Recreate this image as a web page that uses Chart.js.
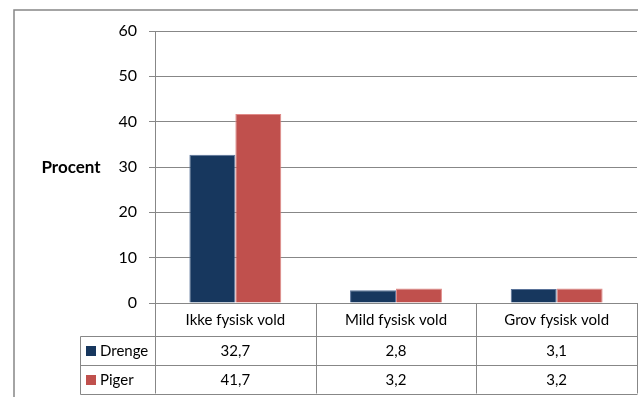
<!DOCTYPE html>
<html>
<head>
<meta charset="utf-8">
<script src="https://cdn.jsdelivr.net/npm/chart.js@4"></script>
<style>
  body { margin: 0; background: #fff; }
</style>
</head>
<body>
<canvas id="chart" width="638" height="397"></canvas>
<script>
// data
const categories = ['Ikke fysisk vold', 'Mild fysisk vold', 'Grov fysisk vold'];
const seriesNames = ['Drenge', 'Piger'];
const drenge = [32.7, 2.8, 3.1];
const piger = [41.7, 3.2, 3.2];
const yMax = 60;
const yStep = 10;
const yTitle = 'Procent';

const navy = '#17375E';
const red = '#C0504D';
const grey = '#878787';
const font = 'Lato, "Open Sans", sans-serif';

function fmt(v) {
  return v.toFixed(1).replace('.', ',');
}

// draws the outer frame, the "Procent" label and the data table under the axis
const tablePlugin = {
  id: 'dataTable',
  beforeDraw(chart) {
    const ctx = chart.ctx;
    ctx.save();
    ctx.strokeStyle = grey;
    ctx.lineWidth = 1.5;
    ctx.beginPath();
    ctx.moveTo(14, chart.height);
    ctx.lineTo(14, 10);
    ctx.lineTo(chart.width, 10);
    ctx.stroke();
    ctx.restore();
  },
  afterDraw(chart) {
    const ctx = chart.ctx;
    const x = chart.scales.x;
    const area = chart.chartArea;
    const n = categories.length;
    const cw = (x.right - x.left) / n;
    const top = area.bottom;
    const rows = [top, top + 32.5, top + 62, top + 90.5];
    const labelLeft = 80.5;

    ctx.save();
    ctx.strokeStyle = grey;
    ctx.lineWidth = 1;
    ctx.beginPath();
    // vertical lines of the category columns
    for (let i = 0; i <= n; i++) {
      const px = Math.round(x.left + i * cw) + 0.5;
      ctx.moveTo(px, rows[0]);
      ctx.lineTo(px, rows[3]);
    }
    // horizontal lines
    for (let r = 1; r < rows.length; r++) {
      ctx.moveTo(labelLeft, Math.round(rows[r]) + 0.5);
      ctx.lineTo(x.right + 0.5, Math.round(rows[r]) + 0.5);
    }
    ctx.moveTo(labelLeft, Math.round(rows[1]) + 0.5);
    ctx.lineTo(labelLeft, Math.round(rows[3]) + 0.5);
    ctx.stroke();

    ctx.fillStyle = '#000';
    ctx.font = '15px ' + font;
    ctx.textAlign = 'center';
    ctx.textBaseline = 'middle';
    categories.forEach((c, i) => {
      const cx = x.getPixelForValue(i);
      ctx.fillText(c, cx, (rows[0] + rows[1]) / 2 + 1);
      ctx.fillText(fmt(drenge[i]), cx, (rows[1] + rows[2]) / 2 + 1);
      ctx.fillText(fmt(piger[i]), cx, (rows[2] + rows[3]) / 2 + 1);
    });

    // row labels with legend keys
    const colors = [navy, red];
    ctx.textAlign = 'left';
    seriesNames.forEach((s, r) => {
      const cy = (rows[r + 1] + rows[r + 2]) / 2;
      ctx.fillStyle = colors[r];
      ctx.fillRect(86, Math.round(cy - 4), 10, 10);
      ctx.fillStyle = '#000';
      ctx.fillText(s, 100, cy + 1);
    });

    // axis title, horizontal to the left of the ticks
    ctx.font = 'bold 17px ' + font;
    ctx.textAlign = 'center';
    ctx.fillText(yTitle, 71, chart.scales.y.getPixelForValue(30) + 1);
    ctx.restore();
  }
};

new Chart(document.getElementById('chart'), {
  type: 'bar',
  data: {
    labels: categories,
    datasets: [
      { label: seriesNames[0], data: drenge, backgroundColor: navy, borderColor: '#5a7399', borderWidth: { top: 1, left: 1, right: 1, bottom: 0 } },
      { label: seriesNames[1], data: piger, backgroundColor: red, borderColor: '#e08a88', borderWidth: { top: 1, left: 1, right: 1, bottom: 0 } }
    ]
  },
  options: {
    responsive: false,
    animation: false,
    layout: { padding: { top: 31, right: 1, left: 0, bottom: 0 } },
    plugins: { legend: { display: false }, tooltip: { enabled: false } },
    datasets: { bar: { barPercentage: 1, categoryPercentage: 0.572 } },
    scales: {
      x: {
        ticks: { display: false },
        grid: { display: false },
        border: { color: grey },
        afterFit(scale) { scale.height = 94; }
      },
      y: {
        min: 0,
        max: yMax,
        ticks: { stepSize: yStep, color: '#000', font: { family: font, size: 16 }, padding: 12 },
        grid: { color: grey, tickLength: 6 },
        border: { color: grey },
        afterFit(scale) { scale.width = 155; }
      }
    }
  },
  plugins: [tablePlugin]
});
</script>
</body>
</html>
